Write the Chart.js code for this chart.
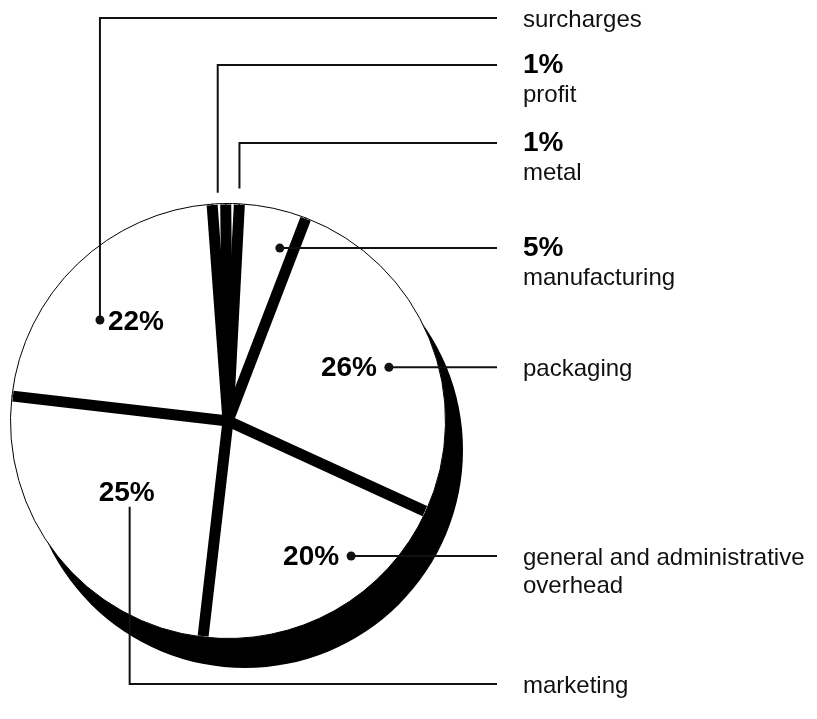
<!DOCTYPE html>
<html>
<head>
<meta charset="utf-8">
<title>Cost breakdown</title>
<script src="https://cdn.jsdelivr.net/npm/chart.js@4.4.1/dist/chart.umd.min.js"></script>
<style>
  html, body { margin: 0; padding: 0; background: #fff; }
  canvas { display: block; }
</style>
</head>
<body>
<canvas id="pie" width="817" height="719"></canvas>
<script>
// slices in drawing order, clockwise from just left of 12 o'clock
const categories = ['profit', 'metal', 'manufacturing', 'packaging',
  ['general and administrative', 'overhead'], 'marketing', 'surcharges'];
const shares = [1, 1, 5, 26, 20, 25, 22];

// callout layout per slice: k = radius fraction, f = position across the slice,
// elbow = y of the label row when the leader bends, pct = where the % goes
const callouts = [
  { k: 1.05, f: 0.45, elbow: 65, pct: 'column', dot: false },
  { k: 1.07, f: 0.95, elbow: 143, pct: 'column', dot: false },
  { k: 0.83, f: 0.76, elbow: null, pct: 'column', dot: true },
  { k: 0.78, f: 0.54, elbow: null, pct: 'left', dot: true },
  { k: 0.84, f: 0.32, elbow: null, pct: 'left', dot: true },
  { k: 0.60, f: 0.47, elbow: 684, pct: 'above', dot: false },
  { k: 0.75, f: 0.40, elbow: 18, pct: 'right', dot: true }
];

const COL_X = 523, LINE_END = 497;
const REG = '24px "Liberation Sans", Arial, sans-serif';
const BOLD = 'bold 28px "Liberation Sans", Arial, sans-serif';

const shadowPlugin = {
  id: 'shadow',
  beforeDatasetsDraw(chart) {
    const a = chart.getDatasetMeta(0).data[0];
    const ctx = chart.ctx;
    ctx.save();
    ctx.fillStyle = '#000';
    ctx.beginPath();
    ctx.arc(a.x + 17, a.y + 29, a.outerRadius + 0.5, 0, Math.PI * 2);
    ctx.fill();
    ctx.restore();
  }
};

const separatorPlugin = {
  id: 'separators',
  afterDatasetsDraw(chart) {
    const ctx = chart.ctx;
    ctx.save();
    ctx.strokeStyle = '#000';
    ctx.lineWidth = 11;
    ctx.lineCap = 'butt';
    chart.getDatasetMeta(0).data.forEach(a => {
      const r = a.outerRadius - 1;
      ctx.beginPath();
      ctx.moveTo(a.x, a.y);
      ctx.lineTo(a.x + r * Math.cos(a.startAngle), a.y + r * Math.sin(a.startAngle));
      ctx.stroke();
    });
    ctx.restore();
  }
};

const calloutPlugin = {
  id: 'callouts',
  afterDraw(chart) {
    const ctx = chart.ctx;
    ctx.save();
    ctx.strokeStyle = '#111';
    ctx.fillStyle = '#111';
    ctx.lineWidth = 2;
    ctx.textBaseline = 'middle';
    chart.getDatasetMeta(0).data.forEach((a, i) => {
      const c = callouts[i];
      const ang = a.startAngle + c.f * (a.endAngle - a.startAngle);
      const px = a.x + c.k * a.outerRadius * Math.cos(ang);
      const py = a.y + c.k * a.outerRadius * Math.sin(ang);
      const rowY = c.elbow === null ? py : c.elbow;

      ctx.beginPath();
      ctx.moveTo(px, py);
      if (c.elbow !== null) ctx.lineTo(px, rowY);
      ctx.lineTo(LINE_END, rowY);
      ctx.stroke();

      if (c.dot) {
        ctx.beginPath();
        ctx.arc(px, py, 4.5, 0, Math.PI * 2);
        ctx.fill();
      }

      const pct = shares[i] + '%';
      ctx.fillStyle = '#000';
      ctx.font = BOLD;
      if (c.pct === 'left') { ctx.textAlign = 'right'; ctx.fillText(pct, px - 12, py + 1); }
      if (c.pct === 'right') { ctx.textAlign = 'left'; ctx.fillText(pct, px + 8, py + 2); }
      if (c.pct === 'above') { ctx.textAlign = 'center'; ctx.fillText(pct, px - 3, py - 14); }

      ctx.textAlign = 'left';
      let nameY = rowY + 2;
      if (c.pct === 'column') {
        ctx.fillText(pct, COL_X, rowY);
        nameY = rowY + 30;
      }
      ctx.fillStyle = '#111';
      ctx.font = REG;
      [].concat(chart.data.labels[i]).forEach((line, j) => {
        ctx.fillText(line, COL_X, nameY + j * 28);
      });
    });
    ctx.restore();
  }
};

new Chart(document.getElementById('pie'), {
  type: 'pie',
  data: {
    labels: categories,
    datasets: [{
      data: shares,
      backgroundColor: '#fff',
      borderColor: '#000',
      borderWidth: 1
    }]
  },
  options: {
    responsive: false,
    animation: false,
    events: [],
    rotation: -4.2,
    layout: { padding: { left: 10, top: 203, right: 371, bottom: 80 } },
    plugins: { legend: { display: false }, tooltip: { enabled: false } }
  },
  plugins: [shadowPlugin, separatorPlugin, calloutPlugin]
});
</script>
</body>
</html>
